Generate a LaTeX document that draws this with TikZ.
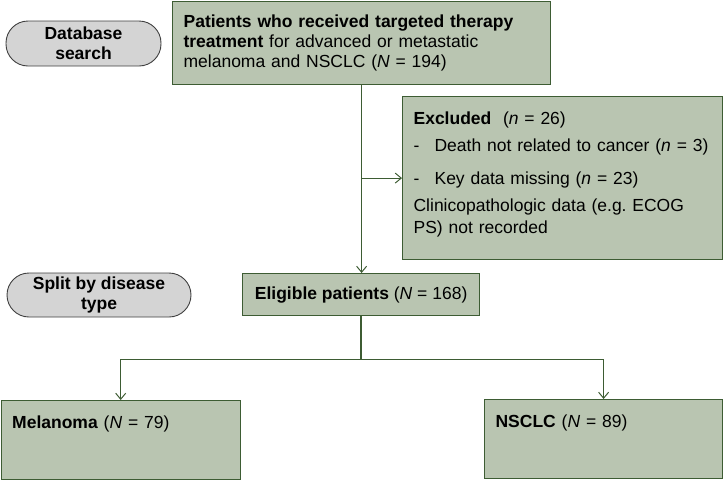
\documentclass[tikz,border=0pt]{standalone}
\usepackage{fontspec}
\setmainfont{Liberation Sans}
\usetikzlibrary{arrows.meta}

\definecolor{boxgreen}{HTML}{B9C5B1}
\definecolor{linegreen}{HTML}{3D5C33}
\definecolor{pillgray}{HTML}{D4D4D4}

\tikzset{
  box/.style={draw=linegreen, fill=boxgreen, line width=1.2pt, inner xsep=11pt, inner ysep=0pt, align=left, anchor=north west},
  pill/.style={draw=black!75, fill=pillgray, line width=0.9pt, rounded corners=22pt, align=center, font=\fontsize{17.5}{20}\selectfont\bfseries, inner sep=0pt},
  link/.style={draw=linegreen, line width=1pt},
  arr/.style={link, -{Straight Barb[length=6pt,width=10pt]}}
}

\begin{document}
\begin{tikzpicture}[x=1pt, y=-1pt, font=\fontsize{17.5}{20}\selectfont]
\useasboundingbox (0,0) rectangle (723,480);

% side labels
\node[pill, minimum width=155pt, minimum height=45pt] at (83.5,43.5) (search) {Database\\search};
\node[pill, minimum width=184pt, minimum height=44pt] at (99,295) (split) {Split by disease\\type};

% flow boxes
\node[box, text width=356pt, minimum height=83pt] at (172,0.6) (patients)
  {\textbf{Patients who received targeted therapy}\\\textbf{treatment} for advanced or metastatic\\melanoma and NSCLC (\textit{N} = 194)};
\node[box, text width=298pt, text height=28pt, text depth=135pt] at (402,96) (excluded)
  {\textbf{Excluded}~~(\textit{n} = 26)\\[7pt]
   \makebox[21pt][l]{-}Death not related to cancer (\textit{n} = 3)\\[13pt]
   \makebox[21pt][l]{-}Key data missing (\textit{n} = 23)\\[7pt]
   Clinicopathologic data (e.g.\ ECOG\\[2pt]
   PS) not recorded};
\node[box, align=center, minimum width=237pt, minimum height=42pt] at (242,273) (eligible)
  {\textbf{Eligible patients} (\textit{N} = 168)};
\node[box, text width=217pt, text height=28pt, text depth=51pt] at (0.6,400) (melanoma)
  {\textbf{Melanoma} (\textit{N} = 79)};
\node[box, text width=216pt, text height=28pt, text depth=51pt] at (484,399) (nsclc)
  {\textbf{NSCLC} (\textit{N} = 89)};

% connectors
\draw[arr] (patients.south) -- (patients.south |- eligible.north);
\draw[arr] (patients.south |- excluded.west) -- (excluded.west);
\draw[link, line width=1.6pt] (eligible.south) -- ++(0,43) coordinate (fork);
\draw[arr] (fork) -| (melanoma.north);
\draw[arr] (fork) -| (nsclc.north);

\end{tikzpicture}
\end{document}
